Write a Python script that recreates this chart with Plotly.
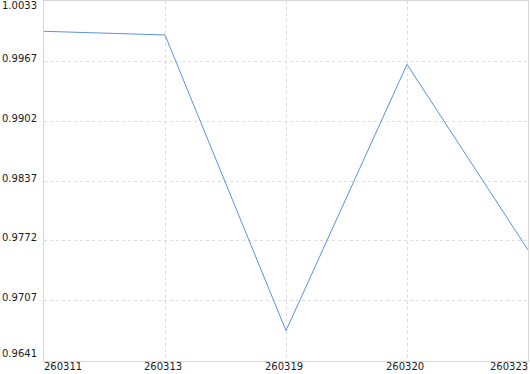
import plotly.graph_objects as go

categories = ["260311", "260313", "260319", "260320", "260323"]
values = [1.0000, 0.9996, 0.9674, 0.9964, 0.9762]
y_ticks = [0.9641, 0.9707, 0.9772, 0.9837, 0.9902, 0.9967, 1.0033]
y_tick_labels = ["0.9641", "0.9707", "0.9772", "0.9837", "0.9902", "0.9967", "1.0033"]

FONT = dict(family="DejaVu Sans, Verdana, sans-serif", size=10, color="#1a1a1a")
GRID = "#dcdcdc"
AXIS = "#d6d6d6"

fig = go.Figure()
fig.add_trace(go.Scatter(
    x=list(range(len(categories))), y=values, mode="lines",
    line=dict(color="#5b90e2", width=1), hoverinfo="skip", showlegend=False,
))

annotations = []
n = len(y_ticks)
for i, (v, t) in enumerate(zip(y_ticks, y_tick_labels)):
    if i == 0:
        ys = 7.5
    elif i == n - 1:
        ys = -4.7
    else:
        ys = 3
    annotations.append(dict(x=0, xref="paper", y=v, yref="y", text=t, showarrow=False,
                            xanchor="right", yanchor="middle", xshift=-5, yshift=ys, font=FONT))
m = len(categories)
for i, c in enumerate(categories):
    if i == 0:
        xa, xs = "left", -2
    elif i == m - 1:
        xa, xs = "right", 2
    else:
        xa, xs = "center", -2
    annotations.append(dict(x=i, xref="x", y=0, yref="paper", text=c, showarrow=False,
                            xanchor=xa, yanchor="top", xshift=xs, yshift=2, font=FONT))

fig.update_layout(
    width=530, height=374,
    margin=dict(l=44, r=2, t=1, b=13),
    paper_bgcolor="white", plot_bgcolor="white",
    annotations=annotations,
    xaxis=dict(range=[0, m - 1], tickvals=list(range(m)), showticklabels=False,
               showgrid=True, gridcolor=GRID, griddash="3px,3px", gridwidth=1,
               showline=True, linecolor=AXIS, linewidth=1, mirror=True,
               zeroline=False, ticks=""),
    yaxis=dict(range=[y_ticks[0], y_ticks[-1]], tickvals=y_ticks, showticklabels=False,
               showgrid=True, gridcolor=GRID, griddash="3px,3px", gridwidth=1,
               showline=True, linecolor=AXIS, linewidth=1, mirror=True,
               zeroline=False, ticks=""),
)

fig.write_html("out.html", config={"displayModeBar": False})
